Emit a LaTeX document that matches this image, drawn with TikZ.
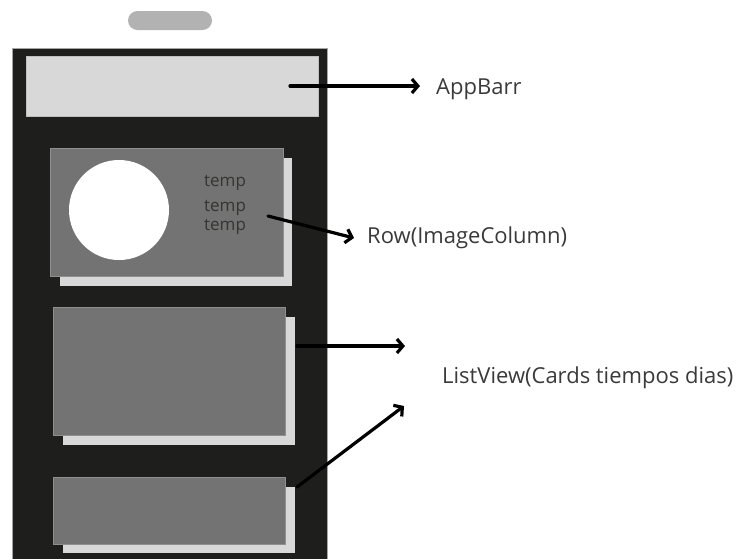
\documentclass[tikz,border=0pt]{standalone}
\usepackage{fontspec}
\setmainfont{Open Sans}
\usetikzlibrary{arrows.meta}

\definecolor{phoneblack}{HTML}{1E1E1C}
\definecolor{barlight}{HTML}{D8D8D8}
\definecolor{cardgray}{HTML}{737373}
\definecolor{pillgray}{HTML}{B2B2B2}
\definecolor{labelgray}{HTML}{3A3A3A}

\begin{document}
\begin{tikzpicture}[x=1pt,y=-1pt]

\tikzset{
    box/.style = {
    anchor=north west,
    inner sep=0pt,
    outer sep=0pt
    }
}

\tikzstyle{front}=[box, fill=cardgray, draw=cardgray!80!white, line width=0.6pt]
\tikzstyle{back}=[box, fill=barlight]
\tikzstyle{etiqueta}=[anchor=west, inner sep=0pt, text=labelgray, font=\fontsize{22}{26}\selectfont]
\tikzstyle{dato}=[anchor=west, inner sep=0pt, text=phoneblack!90, font=\fontsize{17}{20}\selectfont]
\tikzstyle{flecha}=[-{Straight Barb[length=6pt,width=14pt]}, line width=3.2pt, line cap=round, black]

\useasboundingbox (0,0) rectangle (740,558);

% phone
\node (pill) [box, fill=pillgray, rounded corners=9.5pt, minimum width=84pt, minimum height=19pt] at (128,11) {};
\node (phone) [box, fill=phoneblack, draw=gray!70, line width=0.8pt, minimum width=315pt, minimum height=511pt] at (12,48) {};
\node (appbar) [box, fill=barlight, draw=gray!50, line width=0.5pt, minimum width=292pt, minimum height=60pt] at (26,56) {};

% first card: image + column
\node (s-1) [back, minimum width=232pt, minimum height=128pt] at (60,158) {};
\node (c-1) [front, minimum width=233pt, minimum height=128pt] at (50,148) {};
\node (img) [circle, fill=white, inner sep=0pt, minimum size=100pt] at (119,210) {};
\node (t-1) [dato] at (204,183) {temp};
\node (t-2) [dato] at (204,208) {temp};
\node (t-3) [dato] at (204,227) {temp};

% list cards
\node (s-2) [back, minimum width=232pt, minimum height=128pt] at (63,317) {};
\node (c-2) [front, minimum width=232pt, minimum height=128pt] at (53,307) {};
\node (s-3) [back, minimum width=232pt, minimum height=66pt] at (63,487) {};
\node (c-3) [front, minimum width=232pt, minimum height=67pt] at (53,477) {};

% labels
\node (l-appbar) [etiqueta] at (436,89) {AppBarr};
\node (l-row) [etiqueta] at (367,238) {Row(ImageColumn)};
\node (l-list) [etiqueta] at (442,378) {ListView(Cards tiempos dias)};

\coordinate (a-0) at (290,86);
\coordinate (a-1) at (420,86);
\coordinate (b-0) at (268,216);
\coordinate (b-1) at (354,238);
\coordinate (d-0) at (297,346);
\coordinate (d-1) at (405,346);
\coordinate (e-0) at (297,487);
\coordinate (e-1) at (404,406);

\draw[flecha] (a-0)--(a-1);
\draw[flecha] (b-0)--(b-1);
\draw[flecha] (d-0)--(d-1);
\draw[flecha] (e-0)--(e-1);

\end{tikzpicture}
\end{document}
